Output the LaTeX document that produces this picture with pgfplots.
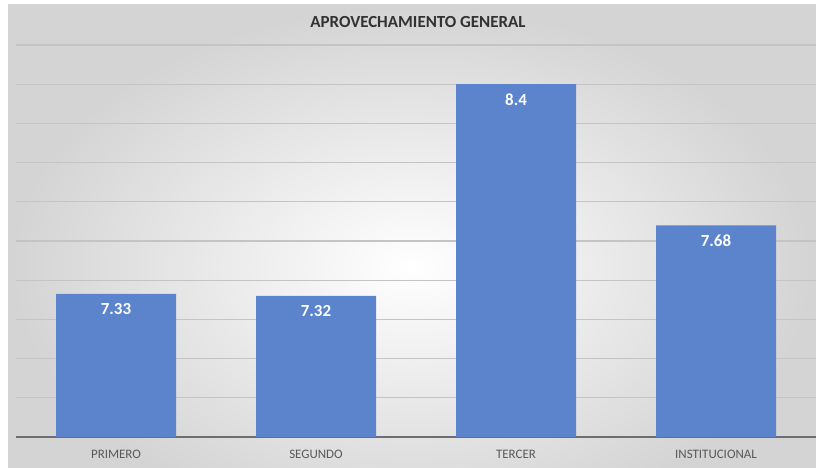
\documentclass[border=0pt]{standalone}
\usepackage{fontspec}
\setmainfont{Carlito}
\usepackage{pgfplots}
\pgfplotsset{compat=1.18}
\definecolor{barblue}{RGB}{91,132,205}
\definecolor{gridgray}{RGB}{196,196,196}
\definecolor{axisgray}{RGB}{110,110,110}
\definecolor{labelgray}{RGB}{89,89,89}
\definecolor{titlegray}{RGB}{50,50,50}
\begin{document}
\begin{tikzpicture}[x=1bp,y=1bp]
\useasboundingbox (0,0) rectangle (816,468);
\fill[white] (0,0) rectangle (816,468);
\shade[inner color=white, outer color=black!17] (8,-60) rectangle (816,463);
\begin{axis}[
    at={(16bp,31bp)}, anchor=south west,
    scale only axis, width=800bp, height=392bp,
    ybar, bar width=120bp,
    xmin=-0.5, xmax=3.5, ymin=6.6, ymax=8.6,
    enlargelimits=false,
    xtick={0,1,2,3},
    xticklabels={PRIMERO,SEGUNDO,TERCER,INSTITUCIONAL},
    xticklabel style={font=\fontsize{13}{15}\selectfont, text=labelgray, yshift=-10bp},
    ytick={6.6,6.8,7.0,7.2,7.4,7.6,7.8,8.0,8.2,8.4,8.6},
    yticklabels={},
    ymajorgrids,
    grid style={gridgray, line width=1.3bp},
    major grid style={gridgray, line width=1.3bp},
    axis y line=left,
    y axis line style={draw=none},
    axis x line*=bottom,
    x axis line style={axisgray, line width=2bp},
    major tick length=0pt,
    /pgf/number format/assume math mode=true,
    nodes near coords={\pgfmathprintnumber[fixed,precision=2]{\pgfplotspointmeta}},
    nodes near coords style={font=\fontsize{17}{20}\selectfont\bfseries, text=white,
        anchor=north, inner sep=0pt, yshift=-9bp},
]
\addplot[fill=barblue, draw=none] coordinates {(0,7.33) (1,7.32) (2,8.4) (3,7.68)};
\end{axis}
\node[font=\fontsize{17}{20}\selectfont\bfseries, text=titlegray] at (418,446) {APROVECHAMIENTO GENERAL};
\end{tikzpicture}
\end{document}
